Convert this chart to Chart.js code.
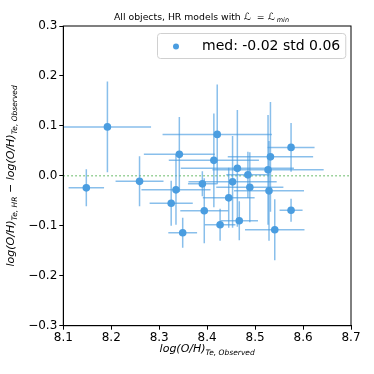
<!DOCTYPE html>
<html>
<head>
<meta charset="utf-8">
<script src="https://cdn.jsdelivr.net/npm/chart.js@4"></script>
<style>
  html, body { margin: 0; padding: 0; background: #fff; }
  #wrap { width: 374px; height: 374px; }
</style>
</head>
<body>
<div id="wrap"><canvas id="chart" width="374" height="374"></canvas></div>
<script>
// values
const xObs = [8.421, 8.342, 8.414, 8.575, 8.532, 8.527, 8.463, 8.485, 8.453, 8.390, 8.335, 8.489,
              8.529, 8.325, 8.445, 8.394, 8.467, 8.427, 8.349, 8.541, 8.575, 8.192, 8.148, 8.259];
const yDiff = [0.083, 0.043, 0.031, 0.057, 0.038, 0.012, 0.015, 0.002, -0.012, -0.016, -0.028, -0.023,
               -0.030, -0.055, -0.044, -0.070, -0.090, -0.098, -0.114, -0.108, -0.069, 0.098, -0.024, -0.011];
const xErr = [0.114, 0.074, 0.094, 0.049, 0.089, 0.116, 0.118, 0.045, 0.092, 0.030, 0.072, 0.070,
              0.073, 0.045, 0.054, 0.050, 0.039, 0.032, 0.030, 0.062, 0.024, 0.091, 0.037, 0.050];
const yErr = [0.100, 0.075, 0.094, 0.049, 0.110, 0.110, 0.117, 0.046, 0.092, 0.025, 0.070, 0.070,
              0.100, 0.045, 0.060, 0.065, 0.039, 0.032, 0.030, 0.061, 0.023, 0.091, 0.037, 0.050];
const xTicks = [8.1, 8.2, 8.3, 8.4, 8.5, 8.6, 8.7];
const yTicks = [-0.3, -0.2, -0.1, 0.0, 0.1, 0.2, 0.3];
const legendLabel = 'med: -0.02 std 0.06';

const blue = '#4a9de0';
const font = "'DejaVu Sans', sans-serif";

// error bars, dotted zero line, frame, titles and legend
const decorations = {
  id: 'decorations',
  beforeDatasetsDraw(chart) {
    const ctx = chart.ctx;
    const xs = chart.scales.x, ys = chart.scales.y;
    const area = chart.chartArea;
    ctx.save();
    // zero line
    ctx.strokeStyle = 'rgba(44,160,44,0.6)';
    ctx.lineWidth = 1.5;
    ctx.setLineDash([1.5, 2.5]);
    ctx.beginPath();
    ctx.moveTo(area.left, ys.getPixelForValue(0));
    ctx.lineTo(area.right, ys.getPixelForValue(0));
    ctx.stroke();
    ctx.setLineDash([]);
    // error bars
    ctx.strokeStyle = 'rgba(74,157,224,0.65)';
    ctx.lineWidth = 1.5;
    for (let i = 0; i < xObs.length; i++) {
      const px = xs.getPixelForValue(xObs[i]);
      const py = ys.getPixelForValue(yDiff[i]);
      ctx.beginPath();
      ctx.moveTo(xs.getPixelForValue(xObs[i] - xErr[i]), py);
      ctx.lineTo(xs.getPixelForValue(xObs[i] + xErr[i]), py);
      ctx.moveTo(px, ys.getPixelForValue(yDiff[i] - yErr[i]));
      ctx.lineTo(px, ys.getPixelForValue(yDiff[i] + yErr[i]));
      ctx.stroke();
    }
    ctx.restore();
  },
  afterDraw(chart) {
    const ctx = chart.ctx;
    const area = chart.chartArea;
    ctx.save();
    // frame
    ctx.strokeStyle = '#000';
    ctx.lineWidth = 1;
    ctx.strokeRect(area.left, area.top, area.right - area.left, area.bottom - area.top);

    // title, laid out left to right; the script L glyph is squeezed to fit
    ctx.fillStyle = '#000';
    ctx.textBaseline = 'alphabetic';
    ctx.textAlign = 'left';
    ctx.font = '9.3px ' + font;
    let tx = 114;
    const head = 'All objects, HR models with';
    ctx.fillText(head, tx, 20);
    tx += ctx.measureText(head).width + 3;
    ctx.font = 'italic 10px ' + font;
    ctx.fillText('\u2112', tx, 20, 9);
    ctx.font = '9.3px ' + font;
    ctx.fillText('=', tx + 13, 20);
    ctx.font = 'italic 10px ' + font;
    ctx.fillText('\u2112', tx + 24, 20, 9);
    ctx.font = 'italic 6.5px ' + font;
    ctx.fillText('min', tx + 33, 22);

    const cx = (area.left + area.right) / 2;
    // x axis title
    drawParts(ctx, [['log(O/H)', 11, 0, 'italic '], ['Te, Observed', 7.5, 3, 'italic ']], cx, 352);

    // y axis title (rotated)
    ctx.save();
    ctx.translate(14, (area.top + area.bottom) / 2);
    ctx.rotate(-Math.PI / 2);
    drawParts(ctx, [
      ['log(O/H)', 11, 0, 'italic '], ['Te, HR', 7.5, 3, 'italic '], [' \u2212 ', 11, 0, ''],
      ['log(O/H)', 11, 0, 'italic '], ['Te, Observed', 7.5, 3, 'italic ']
    ], 0, 0);
    ctx.restore();

    // legend
    ctx.font = '14px ' + font;
    const lw = ctx.measureText(legendLabel).width;
    const bx = 157, by = 33, bw = lw + 50, bh = 25;
    ctx.fillStyle = 'rgba(255,255,255,0.8)';
    ctx.strokeStyle = '#d0d0d0';
    ctx.lineWidth = 1;
    ctx.beginPath();
    ctx.roundRect(bx + 0.5, by + 0.5, bw, bh, 3);
    ctx.fill();
    ctx.stroke();
    ctx.fillStyle = blue;
    ctx.beginPath();
    ctx.arc(bx + 19, by + 13.5, 3, 0, Math.PI * 2);
    ctx.fill();
    ctx.fillStyle = '#000';
    ctx.textBaseline = 'middle';
    ctx.fillText(legendLabel, bx + 45, by + 13.5);
    ctx.restore();
  }
};

// parts: [text, size, baseline shift, style]
function drawParts(ctx, parts, cx, y) {
  let total = 0;
  const widths = parts.map(p => {
    ctx.font = p[3] + p[1] + 'px ' + font;
    const w = ctx.measureText(p[0]).width;
    total += w;
    return w;
  });
  let x = cx - total / 2;
  ctx.fillStyle = '#000';
  ctx.textBaseline = 'alphabetic';
  ctx.textAlign = 'left';
  parts.forEach((p, i) => {
    ctx.font = p[3] + p[1] + 'px ' + font;
    ctx.fillText(p[0], x, y + p[2]);
    x += widths[i];
  });
}

const points = xObs.map((x, i) => ({ x: x, y: yDiff[i] }));

new Chart(document.getElementById('chart').getContext('2d'), {
  type: 'scatter',
  data: {
    datasets: [{
      label: legendLabel,
      data: points,
      backgroundColor: blue,
      borderColor: blue,
      pointRadius: 3.8,
      pointHoverRadius: 3.8,
      borderWidth: 0
    }]
  },
  options: {
    responsive: false,
    animation: false,
    layout: { padding: { left: 0, top: 26, right: 23, bottom: 0 } },
    plugins: {
      legend: { display: false },
      tooltip: { enabled: false },
      title: { display: false }
    },
    scales: {
      x: {
        type: 'linear',
        min: 8.1, max: 8.7,
        afterFit(s) { s.height = 48.3; },
        afterBuildTicks(s) { s.ticks = xTicks.map(v => ({ value: v })); },
        ticks: {
          color: '#000', font: { family: font, size: 12 }, padding: 1,
          maxRotation: 0, autoSkip: false,
          callback: v => v.toFixed(1)
        },
        grid: { drawOnChartArea: false, color: '#000', tickLength: 4 },
        border: { color: '#000' }
      },
      y: {
        type: 'linear',
        min: -0.3, max: 0.3,
        afterFit(s) { s.width = 63.3; },
        afterBuildTicks(s) { s.ticks = yTicks.map(v => ({ value: v })); },
        ticks: {
          color: '#000', font: { family: font, size: 12 }, padding: 2,
          autoSkip: false,
          callback: v => (v < 0 ? '\u2212' : '') + Math.abs(v).toFixed(1)
        },
        grid: { drawOnChartArea: false, color: '#000', tickLength: 4 },
        border: { color: '#000' }
      }
    }
  },
  plugins: [decorations]
});
</script>
</body>
</html>
